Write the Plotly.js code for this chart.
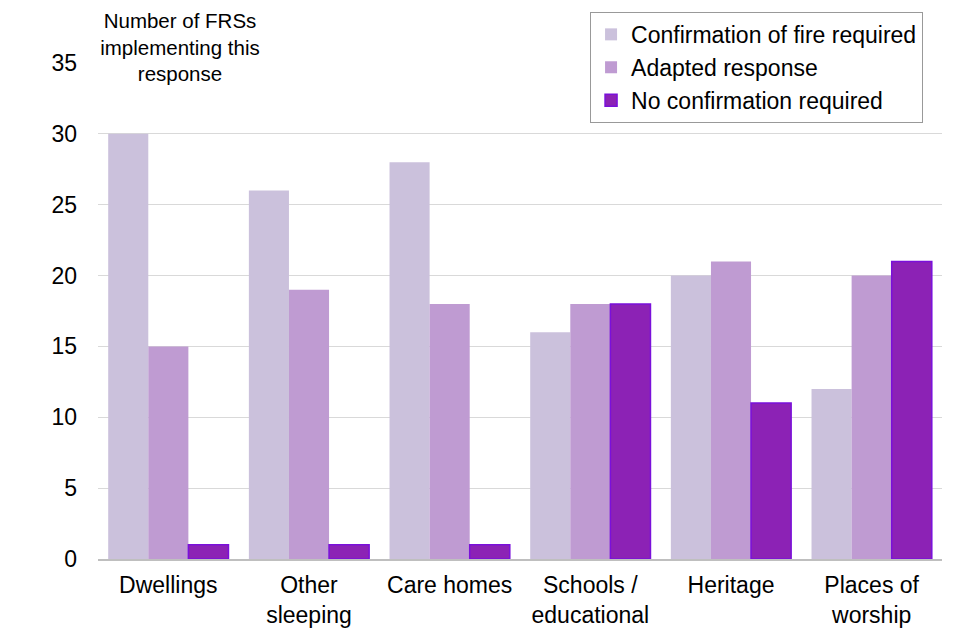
<!DOCTYPE html>
<html>
<head>
<meta charset="utf-8">
<script src="https://cdn.plot.ly/plotly-3.0.1.min.js"></script>
<style>html,body{margin:0;padding:0;background:#fff;}#chart{width:960px;height:640px;}</style>
</head>
<body>
<div id="chart"></div>
<script>
const categories = ["Dwellings", "Other<br>sleeping", "Care homes", "Schools /<br>educational", "Heritage", "Places of<br>worship"];
const confirmationRequired = [30, 26, 28, 16, 20, 12];
const adaptedResponse = [15, 19, 18, 18, 21, 20];
const noConfirmation = [1, 1, 1, 18, 11, 21];
const seriesNames = ["Confirmation of fire required", "Adapted response", "No confirmation required"];
const yTicks = [0, 5, 10, 15, 20, 25, 30, 35];

const font = "Liberation Sans, Arial, sans-serif";
const data = [
  {type: "bar", name: seriesNames[0], x: categories, y: confirmationRequired,
   marker: {color: "#CBC1DC", line: {width: 0}}},
  {type: "bar", name: seriesNames[1], x: categories, y: adaptedResponse,
   marker: {color: "#BF9BD2", line: {width: 0}}},
  {type: "bar", name: seriesNames[2], x: categories, y: noConfirmation,
   marker: {color: "#8C22B5", line: {width: 1.5, color: "#7A10DA"}}}
];
const layout = {
  width: 960, height: 640,
  margin: {l: 98, r: 18, t: 63, b: 81},
  paper_bgcolor: "#fff", plot_bgcolor: "#fff",
  font: {family: font, size: 23, color: "#000"},
  barmode: "group", bargap: 0.145, bargroupgap: 0,
  showlegend: true,
  legend: {x: 0.583, xanchor: "left", y: 1.103, yanchor: "top",
    bgcolor: "#fff", bordercolor: "#999", borderwidth: 1,
    font: {family: font, size: 23, color: "#000"}, tracegroupgap: 0,
    itemwidth: 30},
  xaxis: {type: "category", showgrid: false, zeroline: false,
    showline: true, linecolor: "#BFBFBF", linewidth: 1.5,
    ticks: "", ticklabelstandoff: 5, tickfont: {family: font, size: 23}},
  yaxis: {range: [0, 35], tickvals: yTicks, showgrid: true, gridcolor: "#D9D9D9", gridwidth: 1,
    zeroline: false, showline: false, ticks: "", ticklen: 0, ticklabelstandoff: 20,
    tickfont: {family: font, size: 23}, automargin: false},
  annotations: [{
    xref: "paper", yref: "paper", x: 0.097, xanchor: "center", y: 1.032, yanchor: "middle",
    text: "Number of FRSs<br>implementing this<br>response", showarrow: false, align: "center",
    bgcolor: "#fff", borderpad: 2, width: 172,
    font: {family: font, size: 20.5, color: "#000"}
  }]
};
Plotly.newPlot("chart", data, layout, {displayModeBar: false, staticPlot: true});
</script>
</body>
</html>
